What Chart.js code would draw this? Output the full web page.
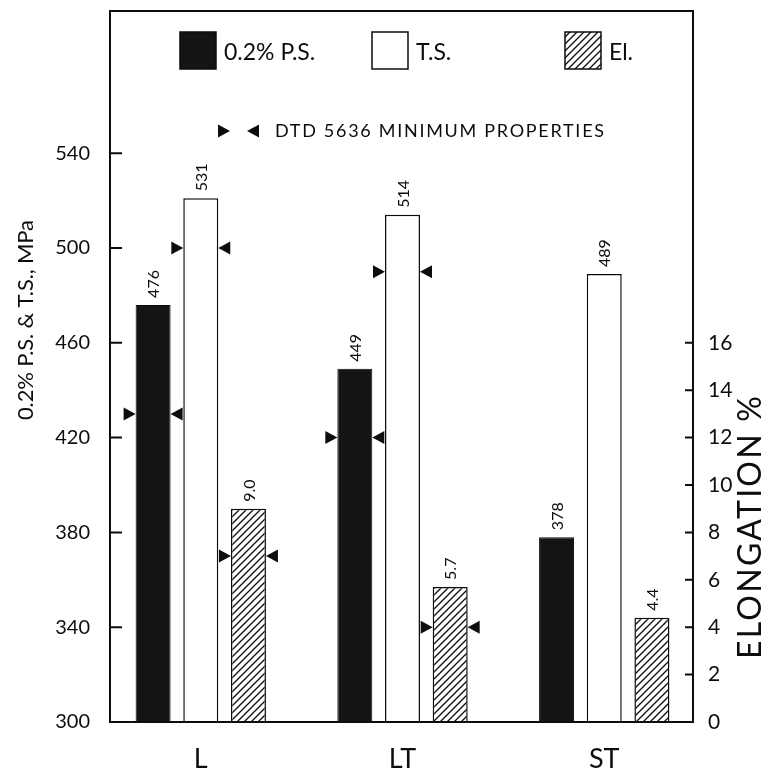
<!DOCTYPE html>
<html>
<head>
<meta charset="utf-8">
<script src="https://cdn.jsdelivr.net/npm/chart.js@4.4.0/dist/chart.umd.min.js"></script>
<style>
  html, body { margin: 0; padding: 0; background: #fff; }
  #wrap { width: 767px; height: 775px; position: relative; }
</style>
</head>
<body>
<div id="wrap"><canvas id="canvas"></canvas></div>
<script>
// values
var categories = ['L', 'LT', 'ST'];
var psValues = [476, 449, 378];
var tsValues = [521, 514, 489];
var elValues = [9.0, 5.7, 4.4];
// numbers printed above the bars
var psLabels = ['476', '449', '378'];
var tsLabels = ['531', '514', '489'];
var elLabels = ['9.0', '5.7', '4.4'];
// DTD 5636 minimum properties (the triangle pairs)
var psMin = [430, 420, null];
var tsMin = [500, 490, null];
var elMin = [7, 4, null];
// axis ticks
var mpaTicks = [300, 340, 380, 420, 460, 500, 540];
var elongTicks = [0, 2, 4, 6, 8, 10, 12, 14, 16];

var INK = '#0d0d0d';
var FONT = 'Lato';

// diagonal hatch for elongation bars
function makeHatch() {
  var s = 7;
  var c = document.createElement('canvas');
  c.width = s; c.height = s;
  var g = c.getContext('2d');
  g.fillStyle = '#fff';
  g.fillRect(0, 0, s, s);
  g.strokeStyle = INK;
  g.lineWidth = 1.3;
  g.beginPath();
  g.moveTo(0, s); g.lineTo(s, 0);
  g.moveTo(-1, 1); g.lineTo(1, -1);
  g.moveTo(s - 1, s + 1); g.lineTo(s + 1, s - 1);
  g.stroke();
  return g.createPattern(c, 'repeat');
}
var hatch = makeHatch();

function toPoints(arr) {
  return arr.map(function (v, i) { return { x: i, y: v }; });
}

function tri(ctx, tipX, y, dir) {
  ctx.beginPath();
  ctx.moveTo(tipX, y);
  ctx.lineTo(tipX - dir * 12, y - 6.5);
  ctx.lineTo(tipX - dir * 12, y + 6.5);
  ctx.closePath();
  ctx.fill();
}

// text spread out to a given width
function spacedText(ctx, txt, x, y, width) {
  ctx.letterSpacing = '0px';
  var w = ctx.measureText(txt).width;
  var sp = (width - w) / (txt.length - 1);
  ctx.letterSpacing = sp + 'px';
  ctx.fillText(txt, x, y);
  ctx.letterSpacing = '0px';
}

var decorPlugin = {
  id: 'decor',
  afterDraw: function (chart) {
    var ctx = chart.ctx, a = chart.chartArea;
    var yL = chart.scales.y, yR = chart.scales.y1;
    ctx.save();
    ctx.fillStyle = INK;
    ctx.strokeStyle = INK;

    // frame
    ctx.lineWidth = 2;
    ctx.strokeRect(a.left, a.top, a.right - a.left, a.bottom - a.top);

    // inward tick marks
    ctx.beginPath();
    mpaTicks.forEach(function (v) {
      var py = yL.getPixelForValue(v);
      ctx.moveTo(a.left, py); ctx.lineTo(a.left + 12, py);
    });
    elongTicks.forEach(function (v) {
      var py = yR.getPixelForValue(v);
      ctx.moveTo(a.right, py); ctx.lineTo(a.right - 8, py);
    });
    ctx.stroke();

    // value labels and minimum markers
    chart.data.datasets.forEach(function (ds, di) {
      var meta = chart.getDatasetMeta(di);
      var scale = chart.scales[ds.yAxisID];
      meta.data.forEach(function (bar, i) {
        var half = bar.width / 2;
        ctx.save();
        ctx.translate(bar.x + 1, bar.y - 7);
        ctx.rotate(-Math.PI / 2);
        ctx.font = '16px ' + FONT;
        ctx.textAlign = 'left';
        ctx.textBaseline = 'middle';
        ctx.fillText(ds.valueLabels[i], 0, 0);
        ctx.restore();
        var m = ds.minimum[i];
        if (m == null) return;
        var my = scale.getPixelForValue(m);
        tri(ctx, bar.x - half, my, 1);
        tri(ctx, bar.x + half, my, -1);
      });
    });

    // legend
    var lx = a.left, ly = a.top;
    var fills = ['#141414', '#fff', hatch];
    var names = ['0.2% P.S.', 'T.S.', 'El.'];
    var boxX = [70, 262, 455];
    ctx.font = '23px ' + FONT;
    ctx.textAlign = 'left';
    ctx.textBaseline = 'alphabetic';
    ctx.lineWidth = 1.5;
    for (var k = 0; k < 3; k++) {
      ctx.fillStyle = fills[k];
      ctx.fillRect(lx + boxX[k], ly + 21, 36, 37);
      ctx.strokeRect(lx + boxX[k], ly + 21, 36, 37);
      ctx.fillStyle = INK;
      ctx.fillText(names[k], lx + boxX[k] + 44, ly + 49);
    }
    tri(ctx, lx + 120, ly + 120, 1);
    tri(ctx, lx + 137, ly + 120, -1);
    ctx.font = '18px ' + FONT;
    spacedText(ctx, 'DTD 5636 MINIMUM PROPERTIES', lx + 165, ly + 126, 329);

    // axis titles
    ctx.save();
    ctx.translate(26, 320);
    ctx.rotate(-Math.PI / 2);
    ctx.textAlign = 'left';
    ctx.textBaseline = 'middle';
    ctx.font = '22px ' + FONT;
    spacedText(ctx, '0.2% P.S. & T.S., MPa', -100, 0, 200);
    ctx.restore();

    ctx.save();
    ctx.translate(751, 528);
    ctx.rotate(-Math.PI / 2);
    ctx.textAlign = 'left';
    ctx.textBaseline = 'middle';
    ctx.font = '32px ' + FONT;
    spacedText(ctx, 'ELONGATION %', -131, 0, 263);
    ctx.restore();

    ctx.restore();
  }
};

function usegraph() {
  var ctx = document.getElementById('canvas');
  return new Chart(ctx, {
    type: 'bar',
    data: {
      datasets: [
        { label: '0.2% P.S.', data: toPoints(psValues), yAxisID: 'y', backgroundColor: '#141414',
          borderColor: INK, borderWidth: 1, valueLabels: psLabels, minimum: psMin },
        { label: 'T.S.', data: toPoints(tsValues), yAxisID: 'y', backgroundColor: '#fff',
          borderColor: INK, borderWidth: 1.5, valueLabels: tsLabels, minimum: tsMin },
        { label: 'El.', data: toPoints(elValues), yAxisID: 'y1', backgroundColor: hatch,
          borderColor: INK, borderWidth: 1.5, valueLabels: elLabels, minimum: elMin }
      ]
    },
    options: {
      responsive: true,
      maintainAspectRatio: false,
      animation: false,
      layout: { padding: { top: 11, left: 0, right: 0, bottom: 0 } },
      datasets: { bar: { categoryPercentage: 0.709, barPercentage: 0.734 } },
      plugins: { legend: { display: false }, tooltip: { enabled: false } },
      scales: {
        x: {
          type: 'linear', min: -0.45, max: 2.44, offset: false,
          grid: { display: false, drawTicks: false }, border: { display: false },
          afterBuildTicks: function (s) { s.ticks = categories.map(function (c, i) { return { value: i }; }); },
          ticks: { callback: function (v) { return categories[v]; }, font: { family: FONT, size: 27 },
                   color: INK, padding: 21, maxRotation: 0, autoSkip: false },
          afterFit: function (s) { s.height = 53; s.paddingLeft = 0; s.paddingRight = 0; }
        },
        y: {
          position: 'left', min: 300, max: 600,
          grid: { display: false, drawTicks: false }, border: { display: false },
          afterBuildTicks: function (s) { s.ticks = mpaTicks.map(function (v) { return { value: v }; }); },
          ticks: { font: { family: FONT, size: 20 }, color: INK, padding: 20 },
          afterFit: function (s) { s.width = 110; s.paddingTop = 0; s.paddingBottom = 0; }
        },
        y1: {
          position: 'right', min: 0, max: 30,
          grid: { display: false, drawTicks: false }, border: { display: false },
          afterBuildTicks: function (s) { s.ticks = elongTicks.map(function (v) { return { value: v }; }); },
          ticks: { font: { family: FONT, size: 21 }, color: INK, padding: 15 },
          afterFit: function (s) { s.width = 74; s.paddingTop = 0; s.paddingBottom = 0; }
        }
      }
    },
    plugins: [decorPlugin]
  });
}

usegraph();
</script>
</body>
</html>
